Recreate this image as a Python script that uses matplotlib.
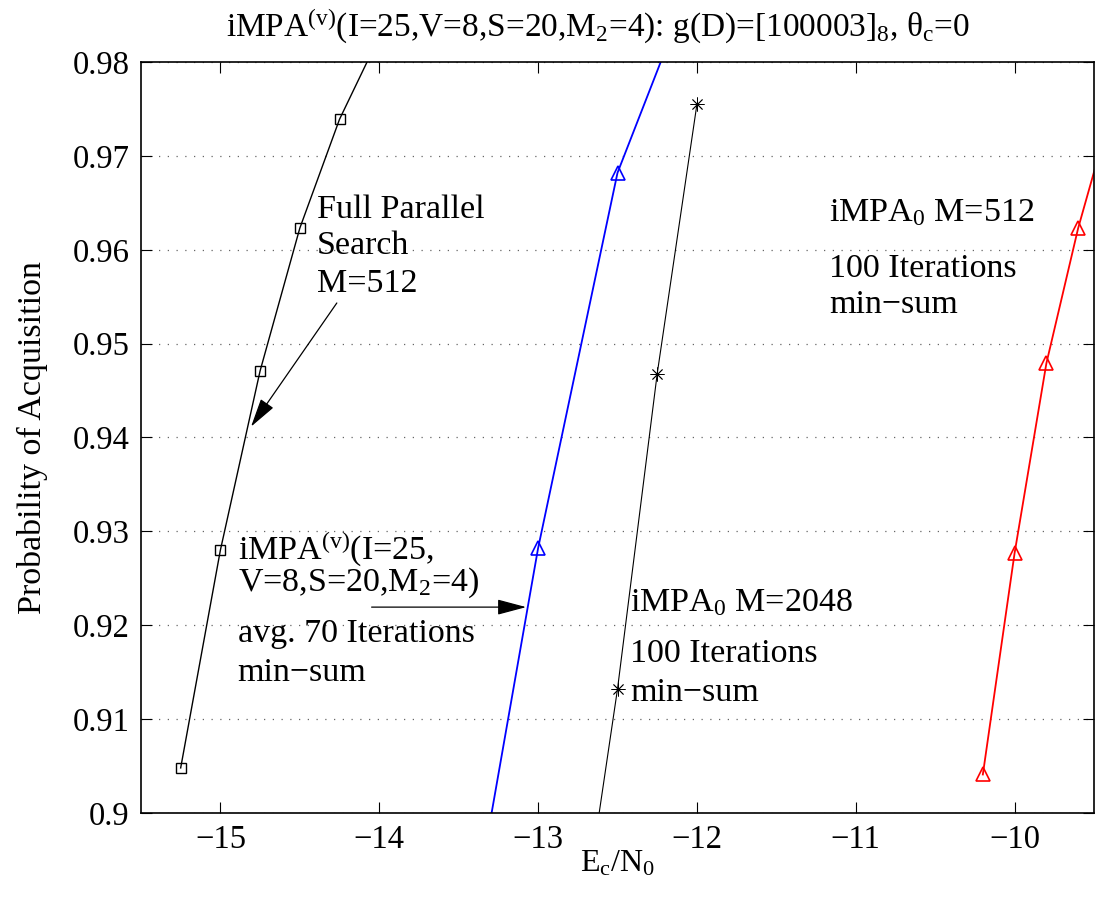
import matplotlib
matplotlib.use("Agg")
import matplotlib.pyplot as plt

plt.rcParams['font.family'] = ['Liberation Serif', 'DejaVu Serif']
plt.rcParams['mathtext.fontset'] = 'custom'
plt.rcParams['mathtext.rm'] = 'Liberation Serif'
plt.rcParams['mathtext.it'] = 'Liberation Serif:italic'
plt.rcParams['mathtext.default'] = 'rm'
plt.rcParams['axes.unicode_minus'] = True

# Data (Ec/N0 in dB, probability of acquisition)
full_x = [-15.25, -15.0, -14.75, -14.5, -14.25, -14.0]
full_y = [0.9048, 0.9280, 0.9471, 0.9623, 0.9739, 0.9827]

impav_x = [-13.5, -13.0, -12.5, -12.0]
impav_y = [0.8800, 0.9282, 0.9682, 0.9899]

impa2048_x = [-12.75, -12.5, -12.25, -12.0]
impa2048_y = [0.8846, 0.9132, 0.9468, 0.9755]

impa512_x = [-10.2, -10.0, -9.8, -9.6, -9.4]
impa512_y = [0.9041, 0.9277, 0.9479, 0.9623, 0.9743]

xticks = [-15, -14, -13, -12, -11, -10]
yticks = [0.90, 0.91, 0.92, 0.93, 0.94, 0.95, 0.96, 0.97, 0.98]
ytick_labels = ['0.9', '0.91', '0.92', '0.93', '0.94', '0.95', '0.96', '0.97', '0.98']

fig = plt.figure(figsize=(10.97, 8.99), dpi=100)
ax = fig.add_axes([0.1285, 0.0957, 0.9973 - 0.1285, 0.931 - 0.0957])

ax.plot(full_x, full_y, color='black', lw=1.0, marker='s', ms=7,
        mfc='none', mec='black', mew=1.0)
ax.plot(impav_x, impav_y, color='blue', lw=1.3, marker='^', ms=10,
        mfc='none', mec='blue', mew=1.2)
ax.plot(impa2048_x, impa2048_y, color='black', lw=0.8, marker=(8, 2, 0), ms=10,
        mec='black', mew=0.6)
ax.plot(impa512_x, impa512_y, color='red', lw=1.3, marker='^', ms=10,
        mfc='none', mec='red', mew=1.2)

ax.set_xlim(-15.5, -9.5)
ax.set_ylim(0.9, 0.98)
ax.set_xticks(xticks)
ax.set_yticks(yticks)
ax.set_yticklabels(ytick_labels)
ax.tick_params(direction='in', length=8, width=0.8, labelsize=23.5,
               top=True, right=True, pad=8)
for sp in ax.spines.values():
    sp.set_linewidth(1.2)
ax.yaxis.grid(True, linestyle=(0, (1, 6)), color='#666666', lw=0.9)
ax.xaxis.grid(False)

ax.set_title(r'iMPA$^{(v)}$(I=25,V=8,S=20,M$_2$=4): g(D)=[100003]$_8$, $\theta_c$=0',
             fontsize=24, pad=18, x=0.479)
ax.set_xlabel(r'E$_c$/N$_0$', fontsize=23, labelpad=-4)
ax.set_ylabel('Probability of Acquisition', fontsize=24.5, labelpad=18)

fs = 24.5
def lines(x, ys, texts):
    for yy, t in zip(ys, texts):
        ax.text(x, yy, t, fontsize=fs, ha='left', va='baseline')

arrow_props = dict(arrowstyle='-|>,head_length=0.6,head_width=0.16', color='black',
                   lw=0.9, mutation_scale=30, shrinkA=0, shrinkB=0)

# Annotation: full parallel search
lines(-14.393, [0.9634, 0.9595, 0.9555], ['Full Parallel', 'Search', 'M=512'])
ax.annotate('', xy=(-14.807, 0.94116), xytext=(-14.267, 0.95433),
            arrowprops=arrow_props)

# Annotation: iMPA(v)
lines(-14.891, [0.92702, 0.92362, 0.91819, 0.91404],
      [r'iMPA$^{(v)}$(I=25,', r'V=8,S=20,M$_2$=4)', 'avg. 70 Iterations', 'min\u2212sum'])
ax.annotate('', xy=(-13.075, 0.92193), xytext=(-14.048, 0.92193),
            arrowprops=arrow_props)

# Annotation: iMPA0 M=2048
lines(-12.421, [0.92146, 0.91603, 0.91191],
      [r'iMPA$_0$ M=2048', '100 Iterations', 'min\u2212sum'])

# Annotation: iMPA0 M=512
lines(-11.168, [0.96299, 0.95713, 0.95330],
      [r'iMPA$_0$ M=512', '100 Iterations', 'min\u2212sum'])

fig.savefig('out.png', dpi=100)
